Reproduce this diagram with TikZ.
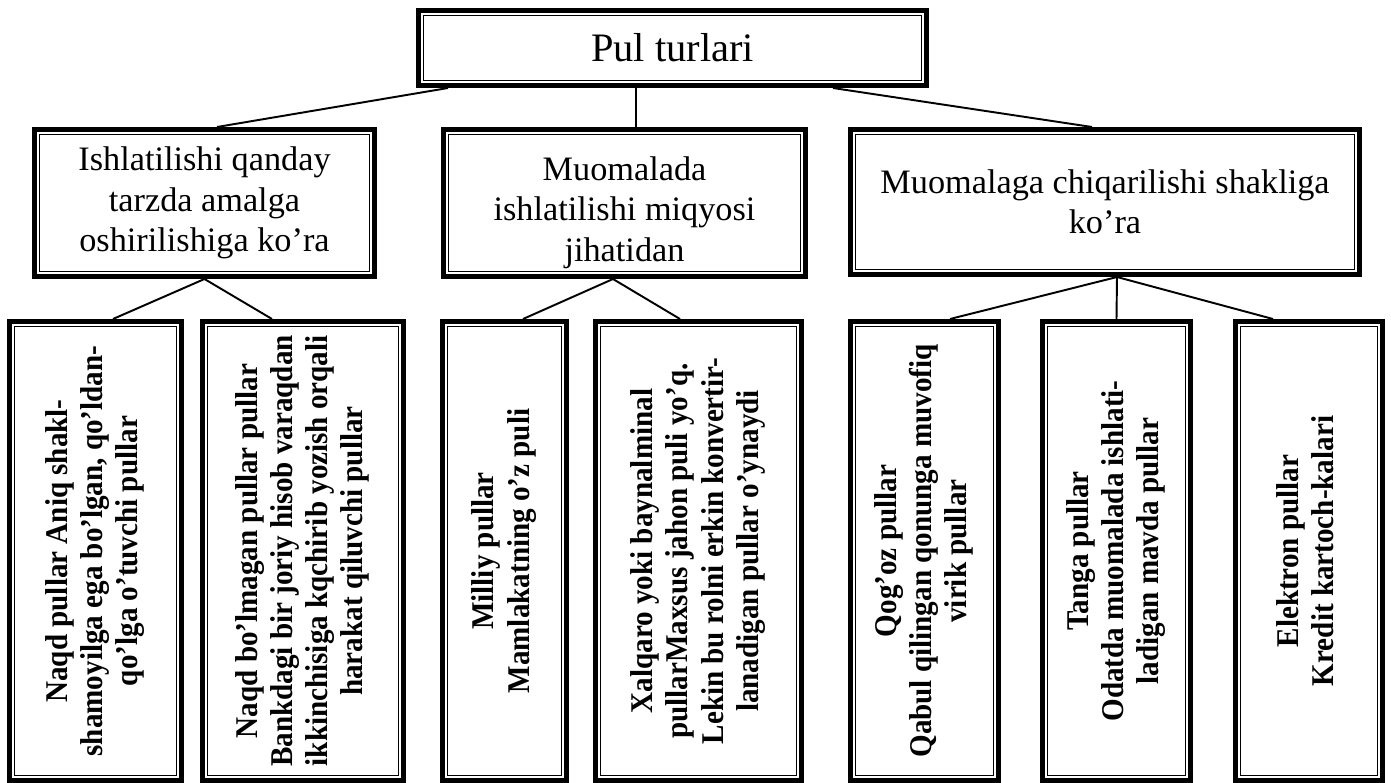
\documentclass[tikz,border=0pt]{standalone}
\usepackage{fontspec}
\setmainfont{Liberation Serif}
\newfontfamily\leaffont[FakeStretch=0.92]{Liberation Serif}
\usepackage{graphicx}
\newcommand{\vtext}[1]{\rotatebox{90}{\begin{tabular}{@{}c@{}}#1\end{tabular}}}
\begin{document}
\begin{tikzpicture}[x=0.2mm,y=-0.2mm,
  box/.style={draw,line width=0.5pt,inner sep=0pt,outer sep=1.55mm,align=center},
  head/.style={box,font=\fontsize{19.5}{23}\selectfont},
  leaf/.style={box,minimum height=89.7mm,font=\leaffont\bfseries\fontsize{18}{20}\selectfont},
  frameline/.style={line width=3.1pt},
  link/.style={line width=1.1pt}]
\useasboundingbox (0,0) rectangle (1391,783);

\node[box,minimum width=99.5mm,minimum height=12.9mm,font=\fontsize{23}{27}\selectfont] (pul) at (672.5,48) {Pul turlari};

\node[head,minimum width=65.9mm,minimum height=27.3mm] (ishlat) at (204.5,203) {Ishlatilishi qanday\\tarzda amalga\\oshirilishiga ko’ra};
\node[head,minimum width=70.3mm,minimum height=27.3mm] (miqyos) at (624.5,203) {\rule{0pt}{24.5pt}Muomalada\\ishlatilishi miqyosi\\jihatidan};
\node[head,minimum width=99.7mm,minimum height=26.9mm] (shakl) at (1105,202) {Muomalaga chiqarilishi shakliga\\ko’ra};

\node[leaf,minimum width=32.3mm] (naqd) at (95.5,551) {\vtext{Naqd pullar Aniq shakl-\\shamoyilga ega bo’lgan, qo’ldan-\\qo’lga o’tuvchi pullar}};
\node[leaf,minimum width=38.1mm] (naqdmas) at (303,551) {\vtext{Naqd bo’lmagan pullar pullar\\Bankdagi bir joriy hisob varaqdan\\ikkinchisiga kqchirib yozish orqali\\harakat qiluvchi pullar}};
\node[leaf,minimum width=22.7mm] (milliy) at (504.5,551) {\vtext{Milliy pullar\\Mamlakatning o’z puli}};
\node[leaf,minimum width=39.1mm] (xalqaro) at (698.5,551) {\vtext{Xalqaro yoki baynalminal\\pullarMaxsus jahon puli yo’q.\\Lekin bu rolni erkin konvertir-\\lanadigan pullar o’ynaydi}};
\node[leaf,minimum width=27.5mm] (qogoz) at (924.5,551) {\vtext{Qog’oz pullar\\Qabul qilingan qonunga muvofiq\\virik pullar}};
\node[leaf,minimum width=27.5mm] (tanga) at (1116.5,551) {\vtext{Tanga pullar\\Odatda muomalada ishlati-\\ladigan mavda pullar}};
\node[leaf,minimum width=27.3mm] (elektron) at (1309,551) {\vtext{Elektron pullar\\Kredit kartoch-kalari}};

% thick outer frames
\foreach \n in {pul,ishlat,miqyos,shakl,naqd,naqdmas,milliy,xalqaro,qogoz,tanga,elektron}
  \draw[frameline] ([shift={(0.55mm,0.55mm)}]\n.south west) rectangle ([shift={(-0.55mm,-0.55mm)}]\n.north east);

\draw[link] ([xshift=-44.9mm]pul.south) -- ([xshift=2.5mm]ishlat.north);
\draw[link] ([xshift=-7.3mm]pul.south) -- ([xshift=2.3mm]miqyos.north);
\draw[link] ([xshift=32.1mm]pul.south) -- ([xshift=-2.6mm]shakl.north);

\draw[link] (ishlat.south) -- ([xshift=3.5mm]naqd.north);
\draw[link] (ishlat.south) -- ([xshift=-6.2mm]naqdmas.north);
\draw[link] ([xshift=-2.3mm]miqyos.south) -- ([xshift=3.7mm]milliy.north);
\draw[link] ([xshift=-2.3mm]miqyos.south) -- ([xshift=-3.7mm]xalqaro.north);
\draw[link] ([xshift=2.4mm]shakl.south) -- ([xshift=5.1mm]qogoz.north);
\draw[link] ([xshift=2.4mm]shakl.south) -- (tanga.north);
\draw[link] ([xshift=2.4mm]shakl.south) -- ([xshift=-7.2mm]elektron.north);
\end{tikzpicture}
\end{document}
